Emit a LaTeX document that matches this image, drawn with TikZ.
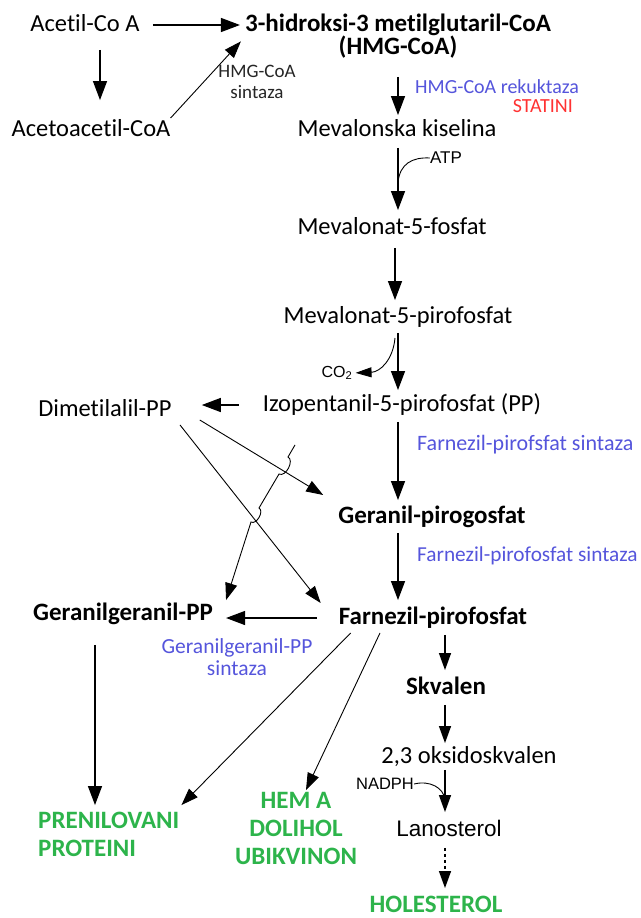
\documentclass[tikz,border=0pt]{standalone}
\usepackage{fontspec}
\setmainfont{Carlito}[Ligatures=NoCommon]
\newfontfamily\arialf{Liberation Sans}
\usetikzlibrary{arrows.meta,calc}
\definecolor{enzblue}{RGB}{85,85,220}
\definecolor{statred}{RGB}{255,50,50}
\definecolor{prodgreen}{RGB}{45,180,75}
\begin{document}
\begin{tikzpicture}[x=1pt,y=-1pt,
  mol/.style={inner sep=0pt, text height=18pt, text depth=5.5pt, font=\fontsize{24.5}{27}\selectfont},
  molb/.style={mol, font=\fontsize{25}{27}\selectfont\bfseries},
  prod/.style={molb, text=prodgreen},
  enz/.style={inner sep=0pt, text height=15pt, text depth=4.5pt, font=\fontsize{22}{24}\selectfont, text=enzblue},
  sint/.style={inner sep=0pt, text height=14pt, text depth=4pt, font=\fontsize{19}{21}\selectfont, text=black!85},
  small/.style={inner sep=0pt, font=\arialf\fontsize{16}{18}\selectfont},
  arr/.style={-{Triangle[length=19pt,width=14pt]}, line width=1.3pt},
  arrs/.style={-{Triangle[length=17pt,width=12pt]}, line width=1.3pt},
  thinarr/.style={-{Triangle[length=17pt,width=12pt]}, line width=0.9pt},
]
\useasboundingbox[fill=white] (0,0) rectangle (640,918);
% columns
\coordinate (cA) at (398,0);
\coordinate (cB) at (445,0);
\coordinate (cC) at (100,0);
\coordinate (cD) at (95,0);
\coordinate (cE) at (395,0);
% nodes
\node[mol] (acetil) at (85,25) {Acetil-Co A};
\node[molb] (hmga) at (398,25) {3-hidroksi-3 metilglutaril-CoA};
\node[molb] (hmgb) at (398,48) {(HMG-CoA)};
\node[mol] (aceto) at (91,130) {Acetoacetil-CoA};
\node[sint] (hs1) at (257,72) {HMG-CoA};
\node[sint] (hs2) at (257,93) {sintaza};
\node[enz, anchor=west, font=\fontsize{20}{22}\selectfont] (hr) at (415,88) {HMG-CoA rekuktaza};
\node[enz, anchor=east, text=statred, font=\fontsize{20}{22}\selectfont] (stat) at (573,107) {STATINI};
\node[mol] (meva) at (397,130) {Mevalonska kiselina};
\node[small, font=\arialf\fontsize{17}{19}\selectfont] (atp) at (446,158) {ATP};
\node[mol] (m5f) at (392,228) {Mevalonat-5-fosfat};
\node[mol] (m5pp) at (398,317) {Mevalonat-5-pirofosfat};
\node[small] (co2) at (337,373) {CO\textsubscript{2}};
\node[mol] (ipp) at (402,405) {Izopentanil-5-pirofosfat (PP)};
\node[mol] (dma) at (105,410) {Dimetilalil-PP};
\node[enz, anchor=west] (fs1) at (417,445) {Farnezil-pirofsfat sintaza};
\node[molb] (gpp) at (432,517) {Geranil-pirogosfat};
\node[enz, anchor=west, font=\fontsize{21.3}{23}\selectfont] (fs2) at (417,556) {Farnezil-pirofosfat sintaza};
\node[molb] (ggpp) at (123,614) {Geranilgeranil-PP};
\node[molb] (fpp) at (433,618) {Farnezil-pirofosfat};
\node[enz, font=\fontsize{21.5}{23}\selectfont] (gs1) at (237,648) {Geranilgeranil-PP};
\node[enz, font=\fontsize{21.5}{23}\selectfont] (gs2) at (237,670) {sintaza};
\node[molb] (skv) at (446,688) {Skvalen};
\node[mol] (oks) at (469,757) {2,3 oksidoskvalen};
\node[small, font=\arialf\fontsize{16.5}{18}\selectfont] (nadph) at (385,784) {NADPH};
\node[mol, font=\arialf\fontsize{22.5}{25}\selectfont] (lan) at (449,830) {Lanosterol};
\node[prod] (hol) at (436,906) {HOLESTEROL};
\node[prod, anchor=west] (pren1) at (38,822) {PRENILOVANI};
\node[prod, anchor=west] (pren2) at (38,850) {PROTEINI};
\node[prod] (hem1) at (296,802) {HEM A};
\node[prod] (hem2) at (296,830) {DOLIHOL};
\node[prod] (hem3) at (296,858) {UBIKVINON};
% connectors
\draw[arr, shorten <=13pt, shorten >=5pt] (acetil.east) -- (hmga.west);
\draw[arr, shorten <=13pt, shorten >=18pt] (acetil.south -| cC) -- (aceto.north -| cC);
\draw[thinarr, shorten >=6pt] (aceto.north east) -- (hmga.south west);
\draw[arr, shorten <=17pt, shorten >=3pt] (hmgb.south -| cA) -- (meva.north -| cA);
\draw[arr, shorten <=6pt, shorten >=6pt] (meva.south -| cA) -- (m5f.north -| cA);
\draw[line width=0.9pt] (atp.west) .. controls (412,157) and (400,164) .. (398,182);
\draw[arr, shorten <=8pt, shorten >=5pt] (m5f.south -| cE) -- (m5pp.north -| cE);
\draw[arr, shorten <=4pt, shorten >=3pt] (m5pp.south -| cA) -- (ipp.north -| cA);
\draw[line width=0.9pt, -{Triangle[length=16pt,width=10pt]}, shorten >=3pt] (395,338) .. controls (393,360) and (380,372) .. (co2.east);
\draw[arr, shorten <=24pt, shorten >=30pt] (ipp.west) -- (dma.east |- ipp.west);
\draw[arr, shorten <=5pt, shorten >=5pt] (ipp.south -| cA) -- (gpp.north -| cA);
\draw[arr, shorten <=4pt, shorten >=6pt] (gpp.south -| cA) -- (fpp.north -| cA);
\draw[thinarr] ($(dma.east)+(28,10)$) -- ($(gpp.west)+(-15,-22)$);
\draw[thinarr] ($(dma.south)+(75,3)$) -- ($(fpp.west)+(-18,-15)$);
\draw[thinarr] ($(ipp.south)+(-107,28)$) -- (288,457) to[bend left=90] (279,474) -- (259,508) to[bend left=90] (251,522) -- ($(ggpp.north east)+(13,-2)$);
\draw[arr, shorten <=22pt, shorten >=13pt] (fpp.west) -- (ggpp.east |- fpp.west);
\draw[thinarr] ($(fpp.south west)+(12,3)$) -- ($(pren1.north east)+(2,-5)$);
\draw[thinarr] ($(fpp.south)+(-53,3)$) -- ($(hem1.north)+(10,0)$);
\draw[arr, shorten <=19pt, shorten >=5pt] (ggpp.south -| cD) -- (pren1.north -| cD);
\draw[arrs, shorten <=5pt, shorten >=6pt] (fpp.south -| cB) -- (skv.north -| cB);
\draw[arrs, shorten <=5pt, shorten >=2pt] (skv.south -| cB) -- (oks.north -| cB);
\draw[arrs, shorten <=1pt, shorten >=6pt] (oks.south -| cB) -- (lan.north -| cB);
\draw[line width=0.9pt] (nadph.east) .. controls (430,780) and (444,788) .. (445,800);
\draw[arrs, dashed, shorten <=6pt, shorten >=6pt] (lan.south -| cB) -- (hol.north -| cB);
\end{tikzpicture}
\end{document}
